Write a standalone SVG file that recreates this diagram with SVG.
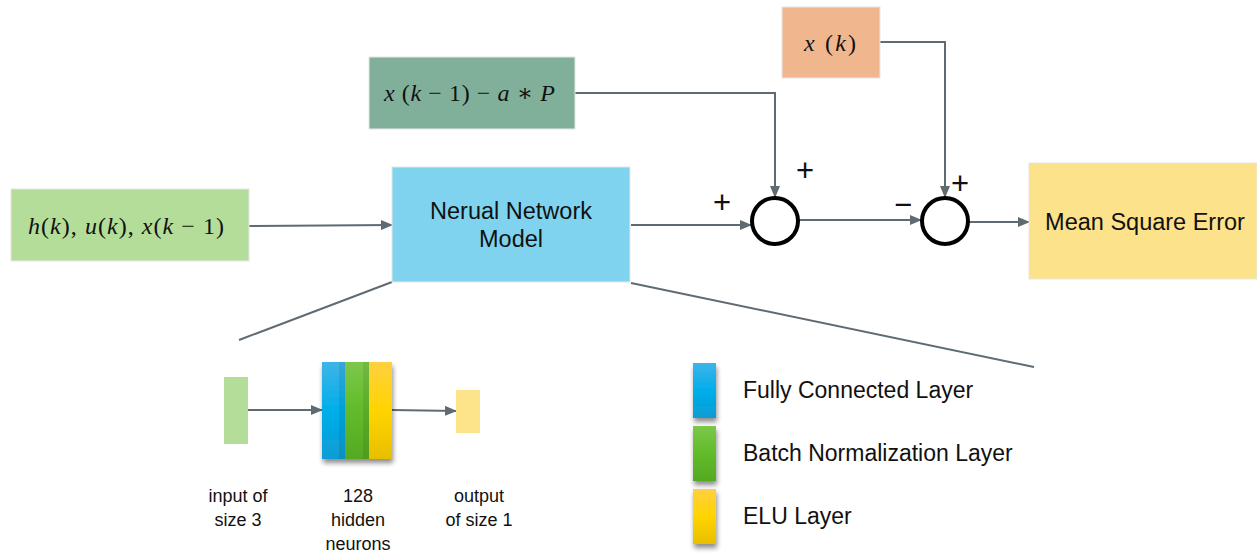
<svg xmlns="http://www.w3.org/2000/svg" width="1257" height="555" viewBox="0 0 1257 555">
  <defs>
    <marker id="arrow" markerWidth="12" markerHeight="10" refX="11" refY="5" orient="auto" markerUnits="userSpaceOnUse">
      <path d="M0,0 L12,5 L0,10 Z" fill="#5f6b73"/>
    </marker>
    <linearGradient id="gBlue" x1="0" y1="0" x2="0" y2="1">
      <stop offset="0" stop-color="#3fb4e8"/>
      <stop offset="0.5" stop-color="#00aeea"/>
      <stop offset="1" stop-color="#0b9cd3"/>
    </linearGradient>
    <linearGradient id="gGreen" x1="0" y1="0" x2="0" y2="1">
      <stop offset="0" stop-color="#7cc84a"/>
      <stop offset="0.5" stop-color="#62bb2a"/>
      <stop offset="1" stop-color="#55a922"/>
    </linearGradient>
    <linearGradient id="gYellow" x1="0" y1="0" x2="0" y2="1">
      <stop offset="0" stop-color="#ffd040"/>
      <stop offset="0.5" stop-color="#ffd400"/>
      <stop offset="1" stop-color="#e8bf00"/>
    </linearGradient>
    <filter id="shadow" x="-30%" y="-20%" width="160%" height="150%">
      <feGaussianBlur in="SourceAlpha" stdDeviation="2.5"/>
      <feOffset dx="1" dy="4" result="b"/>
      <feComponentTransfer><feFuncA type="linear" slope="0.45"/></feComponentTransfer>
      <feMerge><feMergeNode/><feMergeNode in="SourceGraphic"/></feMerge>
    </filter>
  </defs>
  <style>
    .box { stroke: #e6e6e6; stroke-width: 1; }
    .math { font-family: "Liberation Serif", "DejaVu Serif", serif; font-style: italic; font-size: 24px; fill: #111; }
    .up { font-style: normal; }
    .label { font-family: "Liberation Sans", Arial, sans-serif; font-size: 23.5px; fill: #111; }
    .legend { font-family: "Liberation Sans", Arial, sans-serif; font-size: 23px; fill: #111; }
    .small { font-family: "Liberation Sans", Arial, sans-serif; font-size: 18px; fill: #111; }
    .sign { font-family: "Liberation Sans", Arial, sans-serif; font-size: 31px; fill: #111; }
    .conn { stroke: #5f6b73; stroke-width: 2; fill: none; }
    .sum { fill: #fff; stroke: #000; stroke-width: 4; }
  </style>

  <rect width="1257" height="555" fill="#fff"/>

  <!-- connectors -->
  <g id="connectors">
    <line class="conn" x1="249" y1="226" x2="392" y2="225" marker-end="url(#arrow)"/>
    <line class="conn" x1="631" y1="225" x2="751" y2="225" marker-end="url(#arrow)"/>
    <polyline class="conn" points="575,93 775,93 775,197" marker-end="url(#arrow)"/>
    <polyline class="conn" points="880,42 945,42 945,197" marker-end="url(#arrow)"/>
    <line class="conn" x1="799" y1="220" x2="921" y2="220" marker-end="url(#arrow)"/>
    <line class="conn" x1="969" y1="222" x2="1029" y2="222" marker-end="url(#arrow)"/>
    <line class="conn" x1="392" y1="282" x2="239" y2="340"/>
    <line class="conn" x1="631" y1="283" x2="1034" y2="367"/>
    <line class="conn" x1="248" y1="410" x2="322" y2="410" marker-end="url(#arrow)"/>
    <line class="conn" x1="392" y1="410" x2="456" y2="411" marker-end="url(#arrow)"/>
  </g>

  <g id="node-xk">
    <rect class="box" x="782" y="7" width="98" height="71" fill="#f0b78f"/>
    <text class="math" x="804" y="51" textLength="52" lengthAdjust="spacing">x <tspan class="up">(</tspan>k<tspan class="up">)</tspan></text>
  </g>

  <g id="node-xk1">
    <rect class="box" x="369" y="57" width="206" height="72" fill="#81b09a"/>
    <text class="math" x="384" y="101" textLength="171" lengthAdjust="spacing">x <tspan class="up">(</tspan>k <tspan class="up">− 1) −</tspan> a <tspan class="up">∗</tspan> P</text>
  </g>

  <g id="node-input">
    <rect class="box" x="11" y="189" width="238" height="72" fill="#b3dd99"/>
    <text class="math" x="28" y="234" textLength="196" lengthAdjust="spacing">h<tspan class="up">(</tspan>k<tspan class="up">),</tspan> u<tspan class="up">(</tspan>k<tspan class="up">),</tspan> x<tspan class="up">(</tspan>k <tspan class="up">− 1)</tspan></text>
  </g>

  <g id="node-nn">
    <rect class="box" x="392" y="167" width="238" height="115" fill="#7fd3ee"/>
    <text class="label" x="511" y="219" text-anchor="middle">Nerual Network</text>
    <text class="label" x="511" y="247" text-anchor="middle">Model</text>
  </g>

  <g id="sum1">
    <circle class="sum" cx="775" cy="221" r="23"/>
    <text class="sign" x="722" y="213" text-anchor="middle">+</text>
    <text class="sign" x="805" y="181" text-anchor="middle">+</text>
  </g>

  <g id="sum2">
    <circle class="sum" cx="945" cy="221" r="23"/>
    <text class="sign" x="903" y="215" text-anchor="middle">−</text>
    <text class="sign" x="960" y="194" text-anchor="middle">+</text>
  </g>

  <g id="node-mse">
    <rect class="box" x="1029" y="163" width="228" height="116" fill="#fce28a"/>
    <text class="label" x="1145" y="230" text-anchor="middle">Mean Square Error</text>
  </g>

  <!-- detail of the network -->
  <g id="net-input">
    <rect x="224" y="377" width="24" height="67" fill="#b3dd99"/>
    <text class="small" x="238" y="502" text-anchor="middle">input of</text>
    <text class="small" x="238" y="526" text-anchor="middle">size 3</text>
  </g>

  <g id="net-hidden">
    <g filter="url(#shadow)">
      <rect x="322" y="362" width="24" height="97" fill="url(#gBlue)"/>
      <rect x="345" y="362" width="24" height="97" fill="url(#gGreen)"/>
      <rect x="369" y="362" width="23" height="97" fill="url(#gYellow)"/>
    </g>
    <rect x="339" y="362" width="6" height="97" fill="#000" opacity="0.08"/>
    <rect x="363" y="362" width="6" height="97" fill="#000" opacity="0.08"/>
    <text class="small" x="358" y="502" text-anchor="middle">128</text>
    <text class="small" x="358" y="526" text-anchor="middle">hidden</text>
    <text class="small" x="358" y="550" text-anchor="middle">neurons</text>
  </g>

  <g id="net-output">
    <rect x="456" y="390" width="24" height="43" fill="#fde48a"/>
    <text class="small" x="479" y="502" text-anchor="middle">output</text>
    <text class="small" x="479" y="526" text-anchor="middle">of size 1</text>
  </g>

  <!-- legend -->
  <g id="legend">
    <g filter="url(#shadow)">
      <rect x="693" y="363" width="23" height="55" fill="url(#gBlue)"/>
      <rect x="693" y="426" width="23" height="55" fill="url(#gGreen)"/>
      <rect x="693" y="489" width="23" height="55" fill="url(#gYellow)"/>
    </g>
    <text class="legend" x="743" y="398">Fully Connected Layer</text>
    <text class="legend" x="743" y="461">Batch Normalization Layer</text>
    <text class="legend" x="743" y="524">ELU Layer</text>
  </g>
</svg>
